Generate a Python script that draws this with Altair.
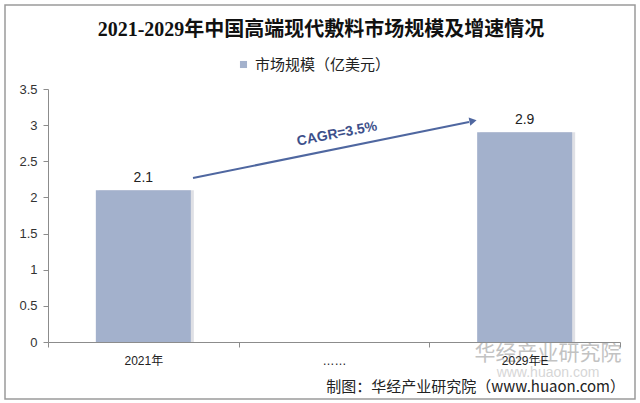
import altair as alt
import pandas as pd

categories = ["2021年", "……", "2029年E"]
values = [2.1, None, 2.9]
series_name = "市场规模（亿美元）"
title_text = "2021-2029年中国高端现代敷料市场规模及增速情况"
cagr_text = "CAGR=3.5%"
source_text = "制图：华经产业研究院（www.huaon.com）"
watermark_text = "华经产业研究院"
watermark_url = "www.huaon.com"
y_ticks = [0, 0.5, 1, 1.5, 2, 2.5, 3, 3.5]

df = pd.DataFrame({"cat": categories, "val": values, "series": series_name})
bars_df = df.dropna()

W, H = 572, 253
BAR = "#a3b1cc"
SANS = "Liberation Sans, Arial, Noto Sans CJK SC"

x_enc = alt.X("cat:N", sort=categories,
              scale=alt.Scale(domain=categories, paddingInner=0, paddingOuter=0),
              axis=alt.Axis(title=None, labelAngle=0, tickBand="extent", ticks=True,
                            tickSize=5, domainColor="#8c8c8c", tickColor="#8c8c8c",
                            labelFontSize=12, labelColor="#222", labelFont=SANS,
                            labelPadding=8, grid=False, zindex=1))
y_enc = alt.Y("val:Q", scale=alt.Scale(domain=[0, 3.5], nice=False, zero=True),
              axis=alt.Axis(title=None, values=y_ticks, format="~g", tickSize=5, grid=False,
                            domainColor="#8c8c8c", tickColor="#8c8c8c",
                            labelFontSize=13, labelColor="#333", labelFont=SANS,
                            labelPadding=6, zindex=1))

base = alt.Chart(bars_df)

frame = alt.Chart(pd.DataFrame({"a": [0]})).mark_rect(
    fill="transparent", stroke="#9a9a9a", strokeWidth=1.5
).encode(x=alt.value(-43), x2=alt.value(587), y=alt.value(-84), y2=alt.value(310))

shadow = base.mark_bar(size=95, color="#c9ccd3", opacity=0.6, xOffset=3).encode(
    x=x_enc, y=y_enc)

bars = base.mark_bar(size=95).encode(
    x=x_enc, y=y_enc,
    color=alt.Color("series:N", scale=alt.Scale(range=[BAR]),
                    legend=alt.Legend(title=None, orient="none", legendX=188, legendY=-32,
                                      symbolType="square", symbolSize=50,
                                      labelFontSize=15, labelColor="#222",
                                      labelFont="Noto Sans CJK SC")))

labels = base.mark_text(dy=-12, fontSize=14, color="#222", font=SANS).encode(
    x=x_enc, y=y_enc, text=alt.Text("val:Q", format=".1f"))

one = pd.DataFrame({"a": [0]})
arrow_line = alt.Chart(one).mark_rule(color="#4f67a0", strokeWidth=2).encode(
    x=alt.value(145), y=alt.value(89), x2=alt.value(421), y2=alt.value(33))
arrow_head = alt.Chart(one).mark_point(shape="triangle-right", filled=True, size=70,
                                       color="#4f67a0", angle=348.6, opacity=1).encode(
    x=alt.value(425), y=alt.value(32))
cagr = alt.Chart(pd.DataFrame({"t": [cagr_text]})).mark_text(
    fontSize=14, fontWeight="bold", color="#3d4f8a", angle=349, font=SANS).encode(
    x=alt.value(289), y=alt.value(45), text="t:N")

title = alt.Chart(pd.DataFrame({"t": [title_text]})).mark_text(
    fontSize=20, fontWeight="bold", color="#111",
    font="Liberation Serif, DejaVu Serif, Noto Sans CJK SC").encode(
    x=alt.value(273), y=alt.value(-59), text="t:N")

wm1 = alt.Chart(pd.DataFrame({"t": [watermark_text]})).mark_text(
    fontSize=21, color="#9a9a9a", opacity=0.6, font="Noto Sans CJK SC").encode(
    x=alt.value(500), y=alt.value(265), text="t:N")
wm2 = alt.Chart(pd.DataFrame({"t": [watermark_url]})).mark_text(
    fontSize=14, color="#9a9a9a", opacity=0.4, font=SANS).encode(
    x=alt.value(500), y=alt.value(284), text="t:N")
source = alt.Chart(pd.DataFrame({"t": [source_text]})).mark_text(
    fontSize=15, color="#222", align="right", font="Noto Sans CJK SC").encode(
    x=alt.value(577), y=alt.value(298), text="t:N")

chart = alt.layer(wm1, wm2, shadow, bars, labels, arrow_line, arrow_head, cagr,
                  title, source, frame).properties(
    width=W, height=H,
    autosize=alt.AutoSizeParams(type="none"),
    padding={"left": 48, "top": 89, "right": 20, "bottom": 61},
    background="white",
).configure_view(stroke=None)

chart.save("out.html", embed_options={"renderer": "svg", "actions": False})
